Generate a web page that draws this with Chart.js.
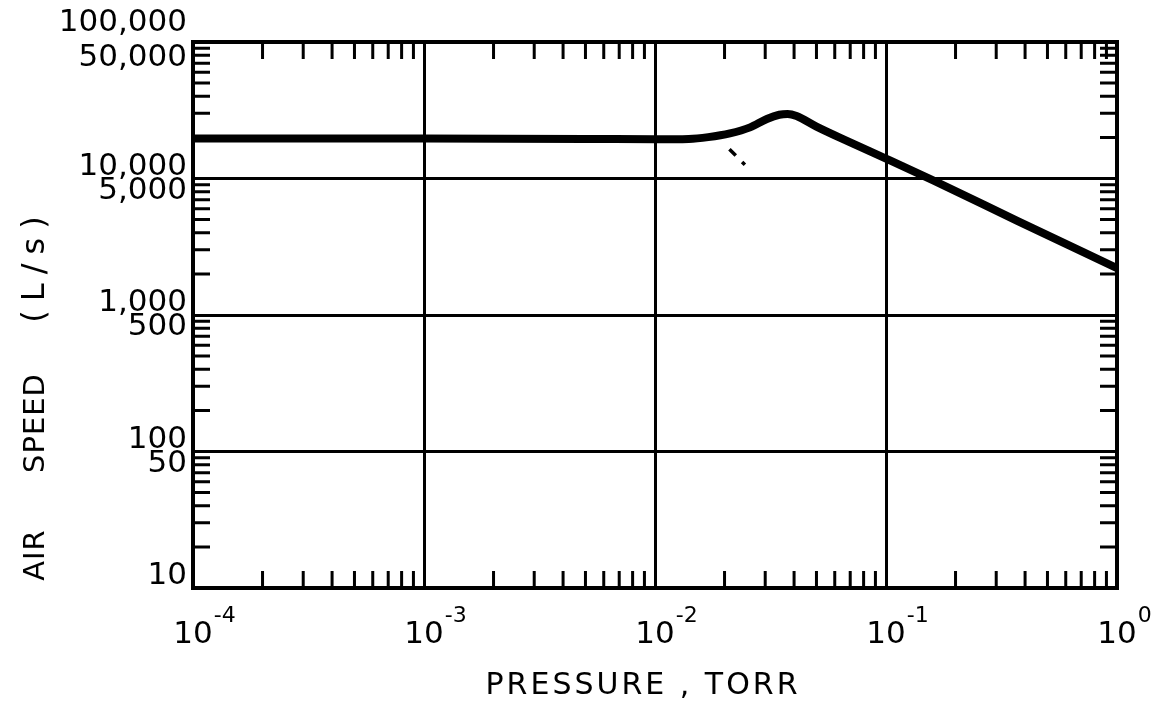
<!DOCTYPE html>
<html>
<head>
<meta charset="utf-8">
<script src="https://cdn.jsdelivr.net/npm/chart.js@4"></script>
<style>
  html, body { margin: 0; padding: 0; background: #fff; }
  .wrap { width: 1158px; height: 704px; position: relative; }
</style>
</head>
<body>
<div class="wrap"><canvas id="speedChart"></canvas></div>
<script>
// Pumping speed curve
const pressure = [0.0001, 0.001, 0.005, 0.01, 0.014, 0.017, 0.0211, 0.0258, 0.0305, 0.0345, 0.0375, 0.041, 0.05, 0.07, 0.1, 0.16, 0.37, 1.0];
const airSpeed = [19600, 19600, 19500, 19400, 19500, 20100, 21400, 23700, 27300, 29300, 29700, 28700, 24000, 18400, 14000, 9700, 4900, 2200];

// stray dashed stroke below the knee
const dashPressure = [0.0210, 0.0245];
const dashSpeed = [16400, 12600];

// axis decades and labels
const xDecades = [0.0001, 0.001, 0.01, 0.1, 1];
const xExponents = ['-4', '-3', '-2', '-1', '0'];
const yDecades = [10, 100, 1000, 10000, 100000];
const yMajorLabels = ['10', '100', '1,000', '10,000', '100,000'];
const yMinorLabels = ['', '50', '500', '5,000', '50,000'];

const FONT = '"DejaVu Sans", sans-serif';

// Frame, inward minor ticks and all lettering
const paperPlugin = {
  id: 'paper',
  afterDraw(chart) {
    const { ctx, chartArea: a, scales: { x, y } } = chart;
    ctx.save();
    ctx.strokeStyle = '#000';
    ctx.fillStyle = '#000';

    // minor ticks on all four sides
    ctx.lineWidth = 3;
    const len = 17;
    ctx.beginPath();
    for (let i = 0; i < xDecades.length - 1; i++) {
      for (let k = 2; k <= 9; k++) {
        const px = x.getPixelForValue(xDecades[i] * k);
        ctx.moveTo(px, a.bottom); ctx.lineTo(px, a.bottom - len);
        ctx.moveTo(px, a.top); ctx.lineTo(px, a.top + len);
      }
    }
    for (let i = 0; i < yDecades.length - 1; i++) {
      for (let k = 2; k <= 9; k++) {
        const py = y.getPixelForValue(yDecades[i] * k);
        ctx.moveTo(a.left, py); ctx.lineTo(a.left + len, py);
        ctx.moveTo(a.right, py); ctx.lineTo(a.right - len, py);
      }
    }
    ctx.stroke();

    // frame
    ctx.lineWidth = 4;
    ctx.strokeRect(a.left, a.top, a.right - a.left, a.bottom - a.top);

    // y labels: decade above, half-decade below
    ctx.font = '31px ' + FONT;
    ctx.textAlign = 'right';
    ctx.textBaseline = 'middle';
    yDecades.forEach((v, i) => {
      const py = y.getPixelForValue(v);
      const top = i === yDecades.length - 1;
      ctx.fillText(yMajorLabels[i], a.left - 6, py - (top ? 19 : 12));
      if (yMinorLabels[i]) ctx.fillText(yMinorLabels[i], a.left - 6, py + (top ? 16 : 12));
    });

    // x labels: 10 with superscript exponent
    ctx.textBaseline = 'alphabetic';
    xDecades.forEach((v, i) => {
      const px = x.getPixelForValue(v);
      ctx.font = '31px ' + FONT;
      ctx.textAlign = 'center';
      ctx.fillText('10', px, 643);
      const w = ctx.measureText('10').width;
      ctx.font = '22px ' + FONT;
      ctx.textAlign = 'left';
      ctx.fillText(xExponents[i], px + w / 2 + 1, 622);
    });

    // x title
    ctx.font = '30px ' + FONT;
    ctx.textAlign = 'center';
    ctx.textBaseline = 'middle';
    ctx.letterSpacing = '3px';
    ctx.fillText('PRESSURE , TORR', 643, 686);

    // y title, rotated
    ctx.translate(36, 0);
    ctx.rotate(-Math.PI / 2);
    ctx.font = '29px ' + FONT;
    ctx.letterSpacing = '1px';
    ctx.fillText('AIR', -555, 0);
    ctx.fillText('SPEED', -423, 0);
    ctx.font = '32px ' + FONT;
    ctx.letterSpacing = '9px';
    ctx.fillText('(L/s)', -265, 0);
    ctx.restore();
  }
};

new Chart(document.getElementById('speedChart'), {
  type: 'line',
  data: {
    datasets: [{
      data: pressure.map((p, i) => ({ x: p, y: airSpeed[i] })),
      borderColor: '#000',
      borderWidth: 8,
      pointRadius: 0,
      cubicInterpolationMode: 'monotone',
      fill: false
    }, {
      data: dashPressure.map((p, i) => ({ x: p, y: dashSpeed[i] })),
      borderColor: '#000',
      borderWidth: 3.5,
      borderDash: [9, 9],
      pointRadius: 0,
      fill: false
    }]
  },
  options: {
    responsive: true,
    maintainAspectRatio: false,
    animation: false,
    layout: { padding: { left: 193, top: 42, right: 41, bottom: 116 } },
    plugins: { legend: { display: false }, tooltip: { enabled: false } },
    scales: {
      x: {
        type: 'logarithmic',
        min: 0.0001,
        max: 1,
        afterBuildTicks: (s) => { s.ticks = xDecades.map(v => ({ value: v })); },
        ticks: { display: false },
        grid: { color: '#000', lineWidth: 3, drawTicks: false },
        border: { display: false }
      },
      y: {
        type: 'logarithmic',
        min: 10,
        max: 100000,
        afterBuildTicks: (s) => { s.ticks = yDecades.map(v => ({ value: v })); },
        ticks: { display: false },
        grid: { color: '#000', lineWidth: 3, drawTicks: false },
        border: { display: false }
      }
    }
  },
  plugins: [paperPlugin]
});
</script>
</body>
</html>
